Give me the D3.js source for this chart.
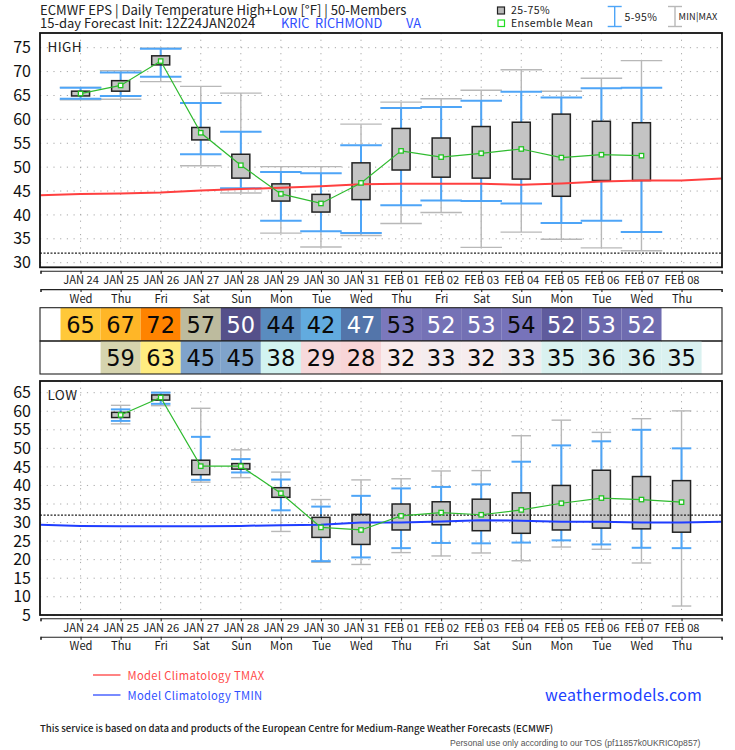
<!DOCTYPE html>
<html>
<head>
<meta charset="utf-8">
<script src="https://cdn.jsdelivr.net/npm/d3@7"></script>
<style>
  html, body { margin: 0; padding: 0; background: #fff; }
  svg { display: block; }
  text { font-family: "Noto Sans CJK JP", "Noto Sans", sans-serif; fill: #111; }
  .axis path, .axis line { stroke: #222; stroke-width: 1.1; }
  .axis text { font-size: 11.2px; fill: #1a1a1a; }
  .yaxis text { font-size: 16px; fill: #111; }
  .yaxis path, .yaxis line { stroke: none; }
</style>
</head>
<body>
<svg id="chart" width="735" height="750"></svg>
<script>
const dateLabels = ['JAN 24', 'JAN 25', 'JAN 26', 'JAN 27', 'JAN 28', 'JAN 29', 'JAN 30', 'JAN 31',
  'FEB 01', 'FEB 02', 'FEB 03', 'FEB 04', 'FEB 05', 'FEB 06', 'FEB 07', 'FEB 08']
const dayLabels = ['Wed', 'Thu', 'Fri', 'Sat', 'Sun', 'Mon', 'Tue', 'Wed',
  'Thu', 'Fri', 'Sat', 'Sun', 'Mon', 'Tue', 'Wed', 'Thu']

// HIGH panel, JAN 24 .. FEB 07
const highDays = d3.range(0, 15)
const highMin = [64.1, 64.2, 67.9, 50.3, 44.6, 36.2, 33.3, 35.7, 38.2, 40.5, 33.2, 36.4, 34.9, 33.1, 32.5]
const highP5 = [64.3, 64.9, 68.9, 52.7, 45.6, 38.8, 36.6, 36.2, 42.0, 43.0, 42.9, 42.4, 38.3, 38.8, 36.4]
const highQ1 = [64.9, 65.9, 71.4, 55.7, 47.7, 42.9, 40.6, 43.2, 49.4, 47.9, 47.7, 47.5, 43.9, 47.2, 47.2]
const highMean = [65.4, 67.1, 72.2, 57.2, 50.4, 44.4, 42.4, 46.7, 53.4, 52.1, 52.9, 53.8, 52.0, 52.6, 52.4]
const highQ3 = [65.9, 68.1, 73.3, 58.3, 52.7, 46.5, 44.3, 50.9, 58.1, 56.1, 58.5, 59.4, 61.1, 59.6, 59.3]
const highP95 = [66.6, 69.8, 74.8, 63.4, 57.4, 49.0, 48.7, 54.6, 62.4, 62.6, 63.9, 65.8, 64.6, 66.5, 66.6]
const highMax = [66.7, 70.2, 74.9, 66.9, 65.5, 50.1, 50.1, 59.0, 63.6, 64.3, 66.1, 70.4, 65.9, 68.6, 72.3]

// LOW panel, JAN 25 .. FEB 08
const lowDays = d3.range(1, 16)
const lowMin = [56.6, 61.5, 40.9, 42.1, 27.6, 19.3, 18.7, 21.9, 21.0, 21.8, 19.7, 23.4, 22.8, 19.1, 7.5]
const lowP5 = [57.4, 62.0, 41.5, 43.5, 33.3, 19.6, 20.6, 23.1, 24.5, 24.4, 24.6, 25.2, 24.1, 23.2, 23.1]
const lowQ1 = [58.3, 63.0, 42.9, 44.4, 36.8, 26.0, 24.1, 28.0, 29.4, 27.8, 27.1, 28.0, 28.5, 28.3, 27.4]
const lowMean = [59.0, 63.7, 45.2, 45.2, 37.9, 28.7, 28.0, 31.8, 32.7, 32.1, 33.4, 35.2, 36.6, 36.2, 35.5]
const lowQ3 = [59.7, 64.4, 46.8, 45.9, 39.4, 31.4, 32.2, 35.0, 35.6, 36.3, 38.0, 40.0, 44.1, 42.4, 41.3]
const lowP95 = [60.5, 65.0, 53.1, 47.1, 41.6, 34.3, 37.2, 39.2, 39.6, 40.3, 46.4, 50.8, 51.9, 55.0, 50.0]
const lowMax = [61.6, 65.1, 60.8, 49.6, 43.6, 36.2, 41.5, 41.8, 43.9, 44.0, 53.4, 57.6, 54.3, 58.0, 60.1]

// model climatology, from the left edge of the frame to the right edge
const climDays = d3.range(-1, 17)
const climMax = [44.1, 44.4, 44.5, 44.7, 45.1, 45.4, 45.7, 46.0, 46.4, 46.5, 46.5, 46.5, 46.3, 46.6, 47.0, 47.2, 47.2, 47.6]
const climMin = [29.4, 29.1, 29.0, 29.0, 29.0, 29.1, 29.3, 29.4, 30.0, 30.0, 30.3, 30.6, 30.5, 30.2, 30.2, 30.0, 30.0, 30.2]

const highTicks = [30, 35, 40, 45, 50, 55, 60, 65, 70, 75]
const lowTicks = [5, 10, 15, 20, 25, 30, 35, 40, 45, 50, 55, 60, 65]
const FREEZING = 32

// table rows
const highRow = [65, 67, 72, 57, 50, 44, 42, 47, 53, 52, 53, 54, 52, 53, 52]
const lowRow = [59, 63, 45, 45, 38, 29, 28, 32, 33, 32, 33, 35, 36, 36, 35]
const highRowColors = ['#ffc839', '#ffb627', '#ff8300', '#bdbb9e', '#55508a', '#5a8cbf', '#62abdf', '#5375aa',
  '#7b78bc', '#7572b6', '#7370b4', '#7773ba', '#5f5b9d', '#6c69ad', '#6f6cb0']
const lowRowColors = ['#d6d4ae', '#ffec80', '#7fa3cb', '#7fa3cb', '#d2f3f1', '#f6d9db', '#f8d5d7', '#f8ebec',
  '#f4ecee', '#f6ecee', '#efeeef', '#d9f1ef', '#d8f0ef', '#d8f0ef', '#daf1f0']
const highRowWhite = [50, 47, 52]
const highRowWhiteDays = [10, 13]

const BLUE = '#4ea5f7'
const GRAY = '#b8b8b8'
const GREEN = '#2fbb2f'

const svg = d3.select('#chart')
const x = d3.scaleLinear().domain([-1, 16]).range([40.5, 721.6])

function label (txt, px, py, size, color, opts = {}) {
  const t = svg.append('text').attr('x', px).attr('y', py)
    .style('font-size', size + 'px').style('fill', color).text(txt)
  if (opts.anchor) t.attr('text-anchor', opts.anchor)
  if (opts.weight) t.style('font-weight', opts.weight)
  if (opts.family) t.style('font-family', opts.family)
  if (opts.spacing) t.style('letter-spacing', opts.spacing + 'px')
  return t
}

function drawDateAxes (top) {
  const dateAxis = d3.axisBottom(x).tickValues(d3.range(-1, 17))
    .tickSizeInner(3).tickSizeOuter(3).tickPadding(2.5)
    .tickFormat(i => dateLabels[i] || '')
  const dayAxis = d3.axisBottom(x).tickValues(d3.range(-1, 17))
    .tickSizeInner(3).tickSizeOuter(3).tickPadding(2.5)
    .tickFormat(i => dayLabels[i] || '')
  svg.append('g').attr('class', 'axis').attr('transform', `translate(0,${top})`).call(dateAxis)
  svg.append('g').attr('class', 'axis').attr('transform', `translate(0,${top + 18.4})`).call(dayAxis)
}

function drawPanel (cfg) {
  const { y, ticks, days, top, bottom, capWidth } = cfg
  const g = svg.append('g')

  // grid
  g.append('g').selectAll('line').data(ticks).join('line')
    .attr('x1', 40).attr('x2', 722).attr('y1', d => y(d)).attr('y2', d => y(d))
    .attr('stroke', '#a8a8a8').attr('stroke-width', 1).attr('stroke-dasharray', '1.2 5.5')
  g.append('g').selectAll('line').data(d3.range(0, 16)).join('line')
    .attr('x1', d => x(d)).attr('x2', d => x(d)).attr('y1', top).attr('y2', bottom)
    .attr('stroke', '#a8a8a8').attr('stroke-width', 1).attr('stroke-dasharray', '1.2 5.5')

  const whisker = (lo, hi, color, width) => {
    const w = g.append('g').attr('stroke', color).attr('stroke-width', width)
    w.selectAll('.stem').data(days).join('line').attr('class', 'stem')
      .attr('x1', d => x(d)).attr('x2', d => x(d))
      .attr('y1', (d, i) => y(lo[i])).attr('y2', (d, i) => y(hi[i]))
    ;[lo, hi].forEach(arr => {
      w.selectAll(null).data(days).join('line')
        .attr('x1', d => x(d) - capWidth / 2).attr('x2', d => x(d) + capWidth / 2)
        .attr('y1', (d, i) => y(arr[i])).attr('y2', (d, i) => y(arr[i]))
    })
  }
  whisker(cfg.min, cfg.max, GRAY, 1.4)
  whisker(cfg.p5, cfg.p95, BLUE, 2)

  // 25-75 boxes
  g.append('g').selectAll('rect').data(days).join('rect')
    .attr('x', d => x(d) - 9).attr('width', 18)
    .attr('y', (d, i) => y(cfg.q3[i])).attr('height', (d, i) => y(cfg.q1[i]) - y(cfg.q3[i]))
    .attr('fill', '#c4c4c4').attr('stroke', '#222').attr('stroke-width', 1.5)

  // freezing line
  g.append('line').attr('x1', 40).attr('x2', 722).attr('y1', y(FREEZING)).attr('y2', y(FREEZING))
    .attr('stroke', '#222').attr('stroke-width', 1.2).attr('stroke-dasharray', '2 1.5')

  // climatology
  g.append('path').datum(climDays)
    .attr('d', d3.line().x(d => x(d)).y((d, i) => y(cfg.clim[i])))
    .attr('fill', 'none').attr('stroke', cfg.climColor).attr('stroke-width', 2)

  // ensemble mean
  g.append('path').datum(days)
    .attr('d', d3.line().x(d => x(d)).y((d, i) => y(cfg.mean[i])))
    .attr('fill', 'none').attr('stroke', GREEN).attr('stroke-width', 1.2)
  g.append('g').selectAll('rect').data(days).join('rect')
    .attr('x', d => x(d) - 2.2).attr('width', 4.4)
    .attr('y', (d, i) => y(cfg.mean[i]) - 2.2).attr('height', 4.4)
    .attr('fill', '#fff').attr('stroke', '#22c422').attr('stroke-width', 1.3)

  // frame
  g.append('rect').attr('x', 40).attr('y', top).attr('width', 682).attr('height', bottom - top)
    .attr('fill', 'none').attr('stroke', '#111').attr('stroke-width', 1.8)

  svg.append('g').attr('class', 'yaxis').attr('transform', 'translate(34,0)')
    .call(d3.axisLeft(y).tickValues(ticks).tickSize(0).tickPadding(3))
}

function drawRow (values, days, colors, top, height, isWhite) {
  const g = svg.append('g')
  g.selectAll('rect').data(days).join('rect')
    .attr('x', d => x(d) - 20.05).attr('width', 40.1)
    .attr('y', top).attr('height', height)
    .attr('fill', (d, i) => colors[i])
  g.selectAll('text').data(days).join('text')
    .attr('x', d => x(d)).attr('y', top + height / 2 + 8.2)
    .attr('text-anchor', 'middle')
    .style('font-size', '22.5px')
    .style('font-family', '"DejaVu Sans", sans-serif')
    .style('fill', (d, i) => isWhite(i) ? '#fff' : '#0a0a0a')
    .text((d, i) => values[i])
  svg.append('rect').attr('x', 40).attr('y', top).attr('width', 682).attr('height', height)
    .attr('fill', 'none').attr('stroke', '#222').attr('stroke-width', 1.1)
}

// title
label('ECMWF EPS | Daily Temperature High+Low [°F] | 50-Members', 40, 15, 13.1, '#222')
label('15-day Forecast Init: 12Z24JAN2024', 40, 27.5, 13, '#222')
label('KRIC  RICHMOND', 281, 27.5, 12.8, '#2f4fff').style('white-space', 'pre')
label('VA', 406, 27.5, 12.8, '#2f4fff')

// header legend
svg.append('rect').attr('x', 497.5).attr('y', 7).attr('width', 7).attr('height', 7)
  .attr('fill', '#b8b8b8').attr('stroke', '#222').attr('stroke-width', 1.2)
label('25-75%', 511, 14, 10.5, '#222', { spacing: 0.4 })
svg.append('rect').attr('x', 498).attr('y', 20).attr('width', 6.5).attr('height', 6.5)
  .attr('fill', '#fff').attr('stroke', '#22dd22').attr('stroke-width', 1.2)
label('Ensemble Mean', 511, 27, 10.5, '#222', { spacing: 0.4 })

function legendWhisker (cx, color) {
  const g = svg.append('g').attr('stroke', color).attr('stroke-width', 1.4)
  g.append('line').attr('x1', cx).attr('x2', cx).attr('y1', 6.5).attr('y2', 26.5)
  g.append('line').attr('x1', cx - 7).attr('x2', cx + 7).attr('y1', 6.5).attr('y2', 6.5)
  g.append('line').attr('x1', cx - 7).attr('x2', cx + 7).attr('y1', 26.5).attr('y2', 26.5)
}
legendWhisker(614.7, BLUE)
label('5-95%', 624.5, 21, 10.5, '#222', { spacing: 0.4 })
legendWhisker(675, GRAY)
label('MIN|MAX', 678.5, 20, 9.2, '#222', { spacing: 0.2 })

// HIGH panel
drawPanel({
  y: d3.scaleLinear().domain([30, 75]).range([262.7, 47.7]),
  ticks: highTicks, days: highDays, top: 33, bottom: 267.3, capWidth: 41.5,
  min: highMin, p5: highP5, q1: highQ1, mean: highMean, q3: highQ3, p95: highP95, max: highMax,
  clim: climMax, climColor: '#ff4040'
})
label('HIGH', 47.5, 52, 13.5, '#222', { spacing: 0.4 })
drawDateAxes(270.7)

// tables
drawRow(highRow, highDays, highRowColors, 307.7, 33.3,
  i => highRowWhite.includes(highRow[i]) || highRowWhiteDays.includes(i))
drawRow(lowRow, lowDays, lowRowColors, 341, 33, () => false)

// LOW panel
drawPanel({
  y: d3.scaleLinear().domain([5, 65]).range([615.3, 392.7]),
  ticks: lowTicks, days: lowDays, top: 381, bottom: 615, capWidth: 19.5,
  min: lowMin, p5: lowP5, q1: lowQ1, mean: lowMean, q3: lowQ3, p95: lowP95, max: lowMax,
  clim: climMin, climColor: '#1f3dff'
})
label('LOW', 47.5, 400, 13.5, '#222', { spacing: 0.4 })
drawDateAxes(618.3)

// bottom legend
svg.append('line').attr('x1', 93).attr('x2', 120.5).attr('y1', 675).attr('y2', 675)
  .attr('stroke', '#ff3030').attr('stroke-width', 1.2)
label('Model Climatology TMAX', 127.5, 679.5, 11.2, '#ff4a4a', { spacing: 0.35 })
svg.append('line').attr('x1', 93).attr('x2', 120.5).attr('y1', 695).attr('y2', 695)
  .attr('stroke', '#1f3dff').attr('stroke-width', 1.2)
label('Model Climatology TMIN', 127.5, 699.5, 11.2, '#2f4fff', { spacing: 0.35 })
label('weathermodels.com', 545, 701, 16, '#2040ff', { spacing: 0.25 })

label('This service is based on data and products of the European Centre for Medium-Range Weather Forecasts (ECMWF)',
  40, 732, 9.55, '#222', { weight: 500 })
label('Personal use only according to our TOS (pf11857k0UKRIC0p857)', 450, 746, 8.6, '#555',
  { family: '"Liberation Sans", Arial, sans-serif' })
</script>
</body>
</html>
